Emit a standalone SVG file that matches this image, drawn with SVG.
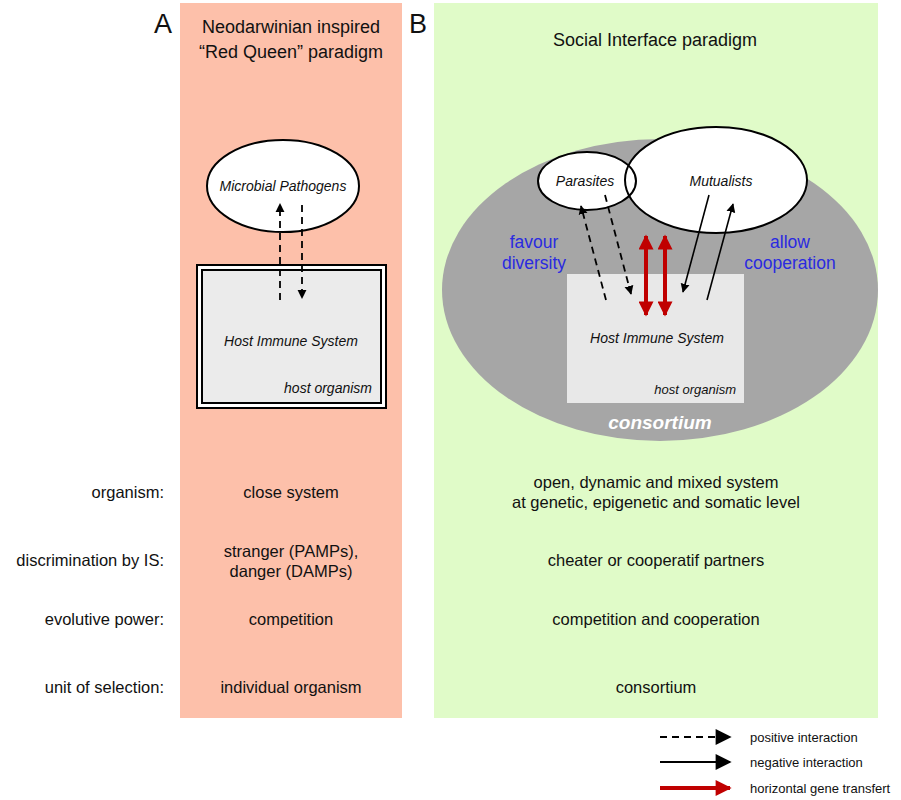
<svg xmlns="http://www.w3.org/2000/svg" width="901" height="800" viewBox="0 0 901 800">
<defs>
<marker id="bh" viewBox="0 0 10 10" refX="9" refY="5" markerWidth="9" markerHeight="13" orient="auto" markerUnits="userSpaceOnUse"><path d="M0,0 L10,5 L0,10 z" fill="#000"/></marker>
<marker id="rh" viewBox="0 0 10 10" refX="9" refY="5" markerWidth="16" markerHeight="15" orient="auto-start-reverse" markerUnits="userSpaceOnUse"><path d="M0,0 L10,5 L0,10 z" fill="#c00000"/></marker>
<marker id="lh" viewBox="0 0 10 10" refX="9" refY="5" markerWidth="24" markerHeight="16" orient="auto" markerUnits="userSpaceOnUse"><path d="M0,0 L10,5 L0,10 z" fill="#000"/></marker>
<marker id="lr" viewBox="0 0 10 10" refX="9" refY="5" markerWidth="24" markerHeight="16" orient="auto" markerUnits="userSpaceOnUse"><path d="M0,0 L10,5 L0,10 z" fill="#c00000"/></marker>
</defs>
<style>
text{font-family:"Liberation Sans",Arial,sans-serif;fill:#111}
.t{font-size:16.5px}
.m{text-anchor:middle}
.r{text-anchor:end}
.i{font-style:italic;font-size:14px}
.b{fill:#2a2ae0;font-size:17.5px;text-anchor:middle}
.d{stroke:#000;stroke-width:1.8;stroke-dasharray:7,5;fill:none}
.s{stroke:#000;stroke-width:1.6;fill:none}
.red{stroke:#c00000;stroke-width:4;fill:none}
.lg{font-size:13px}
</style>
<rect width="901" height="800" fill="#fff"/>
<rect x="180" y="3" width="222" height="715" fill="#fdc0aa"/>
<rect x="434" y="3" width="444" height="715" fill="#e0fbc8"/>
<text x="163" y="33" class="m" font-size="27">A</text>
<text x="418" y="33" class="m" font-size="27">B</text>
<text x="291" y="33" class="m" font-size="18">Neodarwinian inspired</text>
<text x="291" y="58" class="m" font-size="18">“Red Queen” paradigm</text>
<text x="655" y="46" class="m" font-size="18">Social Interface paradigm</text>

<g id="pathogens"><ellipse cx="283" cy="186" rx="76" ry="46" fill="#fff" stroke="#000" stroke-width="2"/><text x="283" y="191" class="m i">Microbial Pathogens</text></g>
<g id="hostA"><rect x="197" y="265" width="189" height="143" fill="#fff" stroke="#000" stroke-width="2"/><rect x="202" y="270" width="179" height="133" fill="#ebebeb" stroke="#000" stroke-width="2"/><text x="291" y="346" class="m i">Host Immune System</text><text x="372" y="393" class="r i" font-size="13">host organism</text></g>

<g id="consortium"><ellipse cx="660" cy="290" rx="218" ry="151" fill="#a6a6a6"/><text x="660" y="429" class="m" font-size="19" font-weight="bold" font-style="italic" style="fill:#fff">consortium</text></g>
<g id="hostB"><rect x="567" y="274" width="177" height="129" fill="#e8e8e8"/><text x="657" y="343" class="m i">Host Immune System</text><text x="736" y="394" class="r i" style="font-size:13px">host organism</text></g>
<ellipse cx="587" cy="181" rx="49" ry="29" fill="#fff"/>
<g id="mutualists"><ellipse cx="716" cy="180" rx="91" ry="53" fill="#fff" stroke="#000" stroke-width="2"/><text x="721" y="186" class="m i">Mutualists</text></g>
<g id="parasites"><ellipse cx="587" cy="181" rx="49" ry="29" fill="none" stroke="#000" stroke-width="2"/><text x="585" y="186" class="m i">Parasites</text></g>
<text x="534" y="248" class="b">favour</text><text x="534" y="269" class="b">diversity</text>
<text x="790" y="248" class="b">allow</text><text x="790" y="269" class="b">cooperation</text>

<g id="connectors">
<line x1="280" y1="300" x2="280" y2="204" class="d" marker-end="url(#bh)"/>
<line x1="302" y1="205" x2="302" y2="298" class="d" marker-end="url(#bh)"/>
<line x1="606" y1="300" x2="581" y2="206" class="d" marker-end="url(#bh)"/>
<line x1="605" y1="195" x2="631" y2="294" class="d" marker-end="url(#bh)"/>
<line x1="709" y1="195" x2="683" y2="292" class="s" marker-end="url(#bh)"/>
<line x1="707" y1="300" x2="733" y2="204" class="s" marker-end="url(#bh)"/>
<line x1="646" y1="236" x2="646" y2="315" class="red" marker-start="url(#rh)" marker-end="url(#rh)"/>
<line x1="665" y1="236" x2="665" y2="315" class="red" marker-start="url(#rh)" marker-end="url(#rh)"/>
</g>

<g>
<text x="164" y="498" class="r t">organism:</text>
<text x="164" y="566" class="r t">discrimination by IS:</text>
<text x="164" y="625" class="r t">evolutive power:</text>
<text x="164" y="693" class="r t">unit of selection:</text>
<text x="291" y="498" class="m t">close system</text>
<text x="291" y="557" class="m t">stranger (PAMPs),</text>
<text x="291" y="577" class="m t">danger (DAMPs)</text>
<text x="291" y="625" class="m t">competition</text>
<text x="291" y="693" class="m t">individual organism</text>
<text x="656" y="488" class="m t">open, dynamic and mixed system</text>
<text x="656" y="508" class="m t">at genetic, epigenetic and somatic level</text>
<text x="656" y="566" class="m t">cheater or cooperatif partners</text>
<text x="656" y="625" class="m t">competition and cooperation</text>
<text x="656" y="693" class="m t">consortium</text>
</g>

<g id="legend">
<line x1="660" y1="737" x2="730" y2="737" stroke="#000" stroke-width="2" stroke-dasharray="7,5" marker-end="url(#lh)"/>
<line x1="660" y1="762" x2="730" y2="762" stroke="#000" stroke-width="2" marker-end="url(#lh)"/>
<line x1="660" y1="788" x2="730" y2="788" stroke="#c00000" stroke-width="4" marker-end="url(#lr)"/>
<text x="750" y="742" class="lg">positive interaction</text>
<text x="750" y="767" class="lg">negative interaction</text>
<text x="750" y="793" class="lg">horizontal gene transfert</text>
</g>
</svg>
